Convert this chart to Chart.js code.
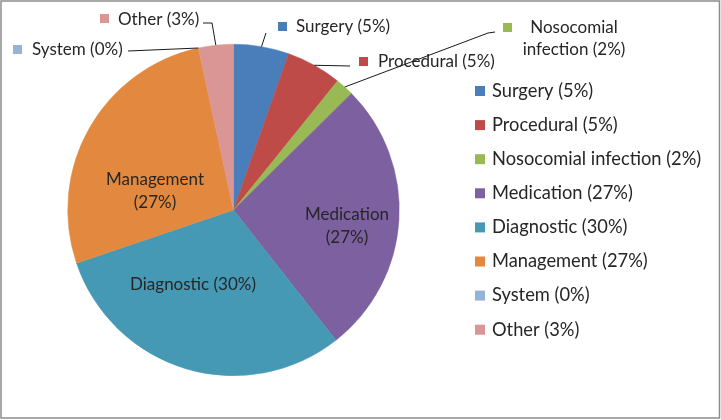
<!DOCTYPE html>
<html>
<head>
<meta charset="utf-8">
<script src="https://cdn.jsdelivr.net/npm/chart.js@4.4.0/dist/chart.umd.min.js"></script>
<style>
    html, body { margin: 0; padding: 0; background: #fff; }
    #wrap { width: 721px; height: 420px; }
</style>
</head>
<body>
<div id="wrap"><canvas id="pie-chart" width="721" height="420"></canvas></div>
<script>
// =======================
// Data
// =======================
const categories = [
    "Surgery",
    "Procedural",
    "Nosocomial infection",
    "Medication",
    "Diagnostic",
    "Management",
    "System",
    "Other"
];
const shares = [5.4, 5.4, 1.8, 26.8, 30.4, 26.8, 0, 3.4];
const sliceColors = [
    '#4a7ebb',
    '#be4b48',
    '#98b954',
    '#7d60a0',
    '#4699b4',
    '#e2893f',
    '#95b3d7',
    '#d99694'
];

const LABEL_FONT = '17px Lato, "Open Sans", sans-serif';
const LEGEND_FONT = '18.3px Lato, "Open Sans", sans-serif';
const TEXT_COLOR = '#262626';

function labelText(i) {
    return categories[i] + ' (' + Math.round(shares[i]) + '%)';
}

// where Excel put the data labels (text only, slices come from the scale)
const outsideLabels = {
    0: { box: [278, 22], text: [296, 27], lines: null, path: [[266, 33]] },
    1: { box: [359, 57], text: [378, 62], lines: null, path: [[350, 66]] },
    2: { box: [503, 23], text: [574, 28], lines: ["Nosocomial", "infection (2%)"], path: [[495, 32], [488, 33]] },
    6: { box: [13, 45], text: [32, 50], lines: null, path: [[128, 51]] },
    7: { box: [100, 14], text: [118, 20], lines: null, path: [[203, 23], [212, 23]] }
};
const insideLabels = {
    3: { pos: [347, 215], lines: ["Medication", "(27%)"] },
    4: { pos: [193, 285], lines: ["Diagnostic (30%)"] },
    5: { pos: [155, 180], lines: ["Management", "(27%)"] }
};

// =======================
// Labels, legend, frame
// =======================
const decorations = {
    id: 'decorations',
    afterDatasetsDraw(chart) {
        const ctx = chart.ctx;
        const arcs = chart.getDatasetMeta(0).data;
        ctx.save();
        ctx.font = LABEL_FONT;
        ctx.textBaseline = 'middle';

        // leader lines + outside labels
        Object.keys(outsideLabels).forEach(k => {
            const i = +k;
            const cfg = outsideLabels[k];
            const a = arcs[i].getProps(['x', 'y', 'startAngle', 'endAngle', 'outerRadius'], true);
            const mid = (a.startAngle + a.endAngle) / 2;
            const ex = a.x + Math.cos(mid) * a.outerRadius;
            const ey = a.y + Math.sin(mid) * a.outerRadius;
            ctx.strokeStyle = '#1a1a1a';
            ctx.lineWidth = 1;
            ctx.beginPath();
            ctx.moveTo(cfg.path[0][0], cfg.path[0][1]);
            cfg.path.slice(1).forEach(p => ctx.lineTo(p[0], p[1]));
            ctx.lineTo(ex, ey);
            ctx.stroke();

            ctx.fillStyle = sliceColors[i];
            ctx.fillRect(cfg.box[0], cfg.box[1], 9, 9);
            ctx.fillStyle = TEXT_COLOR;
            if (cfg.lines) {
                ctx.textAlign = 'center';
                cfg.lines.forEach((t, n) => ctx.fillText(t, cfg.text[0], cfg.text[1] + n * 22));
            } else {
                ctx.textAlign = 'left';
                ctx.fillText(labelText(i), cfg.text[0], cfg.text[1]);
            }
        });

        // labels inside slices
        ctx.textAlign = 'center';
        ctx.fillStyle = TEXT_COLOR;
        Object.keys(insideLabels).forEach(k => {
            const cfg = insideLabels[k];
            cfg.lines.forEach((t, n) => ctx.fillText(t, cfg.pos[0], cfg.pos[1] + n * 23));
        });

        // legend
        ctx.font = LEGEND_FONT;
        ctx.textAlign = 'left';
        categories.forEach((c, i) => {
            const y = 91 + i * 34.1;
            ctx.fillStyle = sliceColors[i];
            ctx.fillRect(475, y - 5, 10, 10);
            ctx.fillStyle = TEXT_COLOR;
            ctx.fillText(labelText(i), 492, y);
        });

        // outer frame
        ctx.strokeStyle = '#8c8c8c';
        ctx.lineWidth = 1.5;
        ctx.strokeRect(1, 1, 718.5, 417);
        ctx.restore();
    }
};

const pieCanvas = document.querySelector('#pie-chart');
let pieChart = new Chart(pieCanvas, {
    type: 'pie',
    data: {
        labels: categories,
        datasets: [{
            data: shares,
            backgroundColor: sliceColors,
            borderColor: sliceColors,
            borderWidth: 0.5
        }]
    },
    options: {
        responsive: false,
        animation: false,
        layout: {
            padding: { left: 67, right: 321, top: 44, bottom: 44 }
        },
        plugins: {
            legend: { display: false },
            tooltip: { enabled: false }
        }
    },
    plugins: [decorations]
});
</script>
</body>
</html>
